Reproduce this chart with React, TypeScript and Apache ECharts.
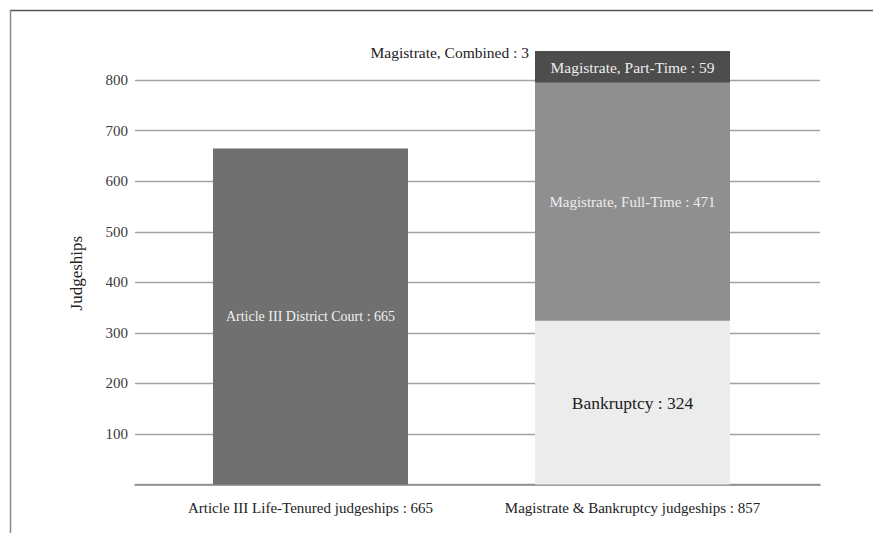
import React, { useEffect, useRef } from "react";
import * as echarts from "echarts";

const categories = [
  "Article III Life-Tenured judgeships : 665",
  "Magistrate & Bankruptcy judgeships : 857",
];
const articleIII = [665, "-"];
const bankruptcy = ["-", 324];
const magFullTime = ["-", 471];
const magPartTime = ["-", 59];
const magCombined = ["-", 3];
const yTicks = [0, 100, 200, 300, 400, 500, 600, 700, 800, 900];

const FONT = "Liberation Serif";

export default function App() {
  const ref = useRef<HTMLDivElement>(null);
  useEffect(() => {
    if (!ref.current) return;
    const chart = echarts.init(ref.current, null, { renderer: "svg" });
    const yMin = yTicks[0];
    const yMax = yTicks[yTicks.length - 1];
    const lineColors = yTicks.map((t, i) => (i === yTicks.length - 1 ? "rgba(0,0,0,0)" : "#a3a3a3"));
    const mkLabel = (color: string, size: number, position: any = "inside") => ({
      show: true,
      position,
      color,
      fontFamily: FONT,
      fontSize: size,
      formatter: (p: any) => `${p.seriesName} : ${p.value}`,
    });
    chart.setOption({
      animation: false,
      backgroundColor: "#ffffff",
      grid: [
        { left: 149.5, right: 79.5, top: 29.6, bottom: 48.4 },
        { left: 135, right: 53, top: 29.6, bottom: 48.4 },
      ],
      xAxis: [
        {
          type: "category",
          gridIndex: 0,
          data: categories,
          axisLine: { show: false },
          axisTick: { show: false },
          axisLabel: { interval: 0, color: "#222", fontFamily: FONT, fontSize: 15, margin: 16 },
        },
        {
          type: "value",
          gridIndex: 1,
          min: 0,
          max: 1,
          axisLine: { show: true, lineStyle: { color: "#8a8a8a", width: 1.5 } },
          axisTick: { show: false },
          axisLabel: { show: false },
          splitLine: { show: false },
        },
      ],
      yAxis: [
        { type: "value", gridIndex: 0, min: yMin, max: yMax, interval: 100, show: false },
        {
          type: "value",
          gridIndex: 1,
          min: yMin,
          max: yMax,
          interval: 100,
          name: "Judgeships",
          nameLocation: "middle",
          nameRotate: 90,
          nameGap: 50,
          nameTextStyle: { color: "#222", fontFamily: FONT, fontSize: 17, padding: [0, 32, 0, 0] },
          axisLine: { show: false },
          axisTick: { show: false },
          axisLabel: {
            color: "#3a3a3a",
            fontFamily: FONT,
            fontSize: 15,
            margin: 7,
            formatter: (v: number) => (v === yMin || v === yMax ? "" : String(v)),
          },
          splitLine: { show: true, lineStyle: { color: lineColors, width: 1.3 } },
        },
      ],
      series: [
        {
          name: "Article III District Court",
          type: "bar",
          stack: "total",
          barWidth: 195,
          xAxisIndex: 0,
          yAxisIndex: 0,
          data: articleIII,
          itemStyle: { color: "#707070" },
          label: mkLabel("#f0f0f0", 14),
        },
        {
          name: "Bankruptcy",
          type: "bar",
          stack: "total",
          barWidth: 195,
          data: bankruptcy,
          itemStyle: { color: "#ececec" },
          label: mkLabel("#222", 17.5),
        },
        {
          name: "Magistrate, Full-Time",
          type: "bar",
          stack: "total",
          barWidth: 195,
          data: magFullTime,
          itemStyle: { color: "#8f8f8f" },
          label: mkLabel("#ededed", 15),
        },
        {
          name: "Magistrate, Part-Time",
          type: "bar",
          stack: "total",
          barWidth: 195,
          data: magPartTime,
          itemStyle: { color: "#4d4d4d" },
          label: mkLabel("#eeeeee", 15.5),
        },
        {
          name: "Magistrate, Combined",
          type: "bar",
          stack: "total",
          barWidth: 195,
          data: magCombined,
          itemStyle: { color: "#1a1a1a" },
          label: { ...mkLabel("#222", 15.5, "left"), distance: 6 },
        },
      ],
      graphic: [
        { type: "line", shape: { x1: 10, y1: 10.5, x2: 873, y2: 10.5 }, style: { stroke: "#555", lineWidth: 1.5 } },
        { type: "line", shape: { x1: 10.5, y1: 10, x2: 10.5, y2: 533 }, style: { stroke: "#888", lineWidth: 1.5 } },
      ],
    });
    return () => chart.dispose();
  }, []);
  return <div ref={ref} style={{ width: 873, height: 533, position: "absolute", left: 0, top: 0 }} />;
}
